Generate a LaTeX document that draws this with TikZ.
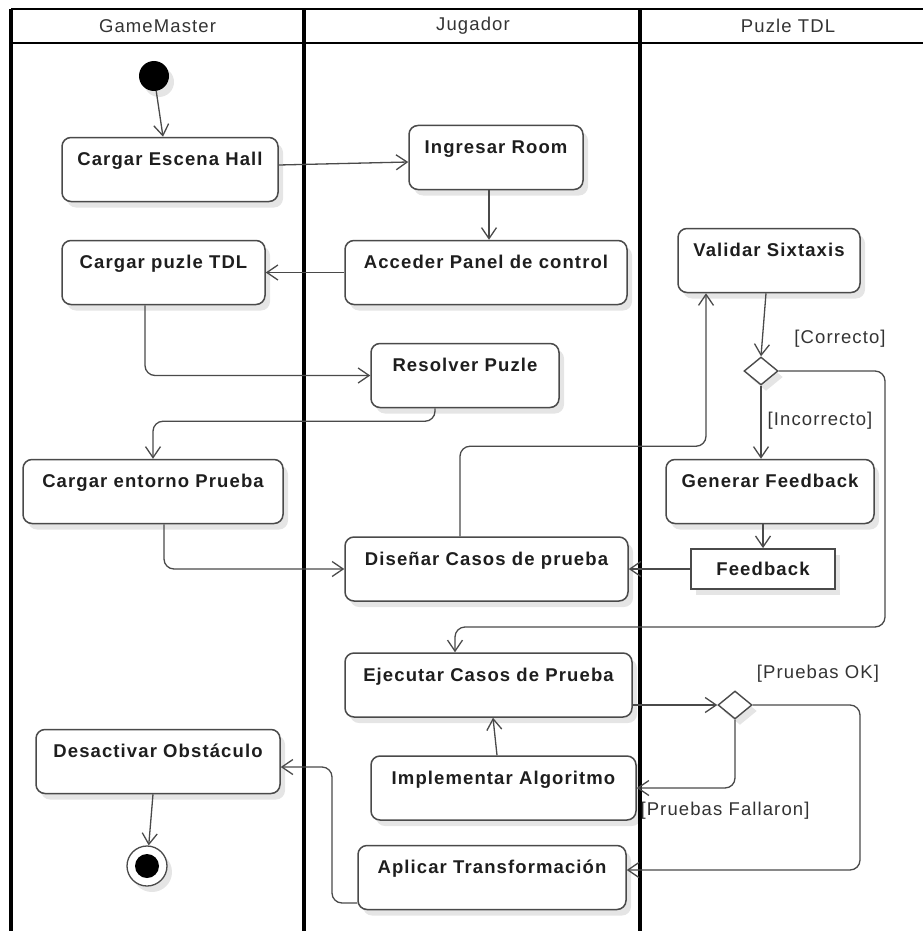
\documentclass[tikz,border=0pt]{standalone}
\usepackage{fontspec}
\setmainfont{Liberation Sans}[LetterSpace=6]
\usetikzlibrary{arrows.meta,shapes.geometric,shadows}
\definecolor{edgegray}{HTML}{4A4A4A}
\definecolor{textgray}{HTML}{1E1E1E}
\definecolor{headgray}{HTML}{333333}
\begin{document}
\begin{tikzpicture}[x=1pt,y=-1pt,
    shade/.style={drop shadow={shadow xshift=5pt,shadow yshift=-6pt,opacity=0.10,fill=black}},
    act/.style={draw=edgegray,line width=1.5pt,rounded corners=9pt,fill=white,shade,
      minimum height=64pt,inner ysep=0pt,text height=28pt,text depth=36pt,
      font=\fontsize{18.5}{22}\selectfont\bfseries,text=textgray},
    obj/.style={draw=edgegray,line width=1.8pt,fill=white,shade,minimum width=144pt,
      minimum height=40pt,font=\fontsize{18.5}{22}\selectfont\bfseries,text=textgray},
    dec/.style={diamond,draw=edgegray,line width=1.4pt,fill=white,shade,inner sep=0pt,
      minimum width=34pt,minimum height=28pt},
    guard/.style={font=\fontsize{18.5}{22}\selectfont,text=headgray,inner sep=0pt},
    head/.style={font=\fontsize{18.5}{22}\selectfont,text=headgray,inner sep=0pt},
    lane/.style={line width=3.2pt,black},
    flow/.style={draw=edgegray,line width=1.3pt,rounded corners=10pt,
      -{Straight Barb[length=11pt,width=15pt]}}]
  \useasboundingbox (0,0) rectangle (923,931);
  % swimlanes
  \draw[lane,line width=2.6pt] (11,9) -- (923,9);
  \draw[lane,line width=2.6pt] (11,43) -- (923,43);
  \draw[lane] (11,9) -- (11,931);
  \draw[lane] (304,9) -- (304,931);
  \draw[lane] (640,9) -- (640,931);
  \node[head] (gmhead) at (157.5,26) {GameMaster};
  \node[head] (jghead) at (473,26) {Jugador};
  \node[head] (pzhead) at (788,26) {Puzle TDL};
  % activities
  \node[circle,fill=black,minimum size=30pt,inner sep=0pt,shade] (start) at (154,76) {};
  \node[act,minimum width=216pt] (hall) at (170,169.5) {Cargar Escena Hall};
  \node[act,minimum width=174pt] (room) at (496,157.5) {Ingresar Room};
  \node[act,minimum width=282pt] (panel) at (486,272.5) {Acceder Panel de control};
  \node[act,minimum width=203pt] (puzle) at (163.5,272.5) {Cargar puzle TDL};
  \node[act,minimum width=188pt] (resolver) at (465,375.5) {Resolver Puzle};
  \node[act,minimum width=260pt] (entorno) at (153,491.5) {Cargar entorno Prueba};
  \node[act,minimum width=283pt] (disenar) at (486.5,569) {Diseñar Casos de prueba};
  \node[act,minimum width=182pt] (validar) at (769,260.5) {Validar Sixtaxis};
  \node[dec] (dec1) at (761,371) {};
  \node[act,minimum width=208pt] (feedgen) at (770,491.5) {Generar Feedback};
  \node[obj] (feedback) at (763,569) {Feedback};
  \node[act,minimum width=287pt] (ejecutar) at (488.5,685) {Ejecutar Casos de Prueba};
  \node[dec] (dec2) at (735,705) {};
  \node[act,minimum width=265pt] (implementar) at (503.5,788) {Implementar Algoritmo};
  \node[act,minimum width=268pt] (aplicar) at (492,877.5) {Aplicar Transformación};
  \node[act,minimum width=244pt] (desactivar) at (158,761.5) {Desactivar Obstáculo};
  \node[circle,draw=edgegray,line width=1.3pt,fill=white,minimum size=40pt,inner sep=0pt,shade,
    path picture={\fill[black] (path picture bounding box.center) circle (12pt);}] (end) at (147,866) {};
  % guards
  \node[guard] (correcto) at (840,339) {[Correcto]};
  \node[guard] (incorrecto) at (820,421) {[Incorrecto]};
  \node[guard] (pruebasok) at (818,674) {[Pruebas OK]};
  \node[guard] (fallaron) at (725,811) {[Pruebas Fallaron]};
  % flows
  \begin{scope}[flow]
    \draw (start) -- ([xshift=-7pt]hall.north);
    \draw ([yshift=4.5pt]hall.east) -- ([yshift=-4.5pt]room.west);
    \draw ([xshift=-7pt]room.south) -- ([xshift=3pt]panel.north);
    \draw (panel.west) -- (puzle.east);
    \draw ([xshift=-18.5pt]puzle.south) |- (resolver.west);
    \draw ([xshift=-30pt]resolver.south) -- ++(0,13) -| (entorno.north);
    \draw ([xshift=11pt]entorno.south) |- (disenar.west);
    \draw ([xshift=-26.5pt]disenar.north) -- ++(0,-90) -| ([xshift=-63pt]validar.south);
    \draw ([xshift=-3pt]validar.south) -- (dec1.north);
    \draw (dec1.south) -- (dec1.south |- feedgen.north);
    \draw (dec1.east) -| (885,627) -| ([xshift=-33.5pt]ejecutar.north);
    \draw (feedgen.south -| feedback.north) -- (feedback.north);
    \draw (feedback.west) -- (disenar.east);
    \draw (ejecutar.east |- dec2.west) -- (dec2.west);
    \draw (dec2.south) |- (implementar.east);
    \draw (dec2.east) -| (860,870) -- ([yshift=7.5pt]aplicar.east);
    \draw ([xshift=-6.5pt]implementar.north) -- ([xshift=4.5pt]ejecutar.south);
    \draw ([yshift=-25.5pt]aplicar.west) -| (332,767) -- ([yshift=-5.5pt]desactivar.east);
    \draw ([xshift=-5pt]desactivar.south) -- (end);
  \end{scope}
\end{tikzpicture}
\end{document}
